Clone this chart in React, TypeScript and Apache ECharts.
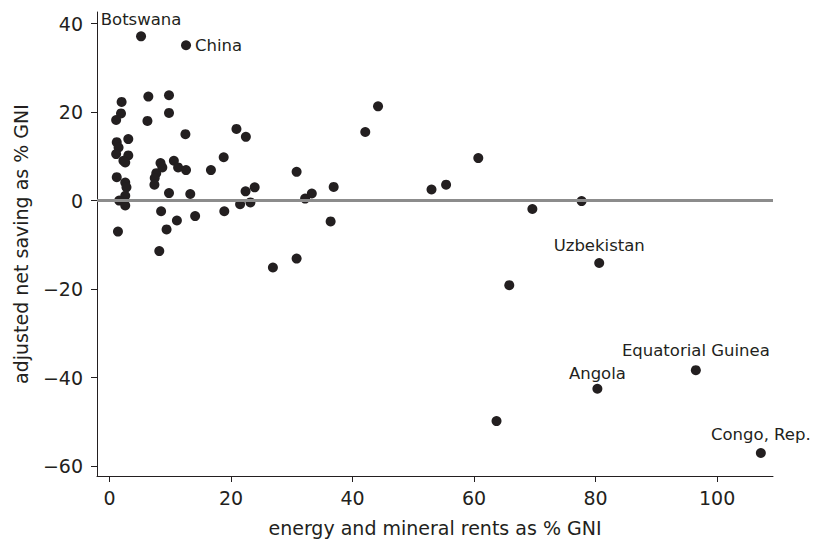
import React, { useEffect, useRef } from "react";
import * as echarts from "echarts";

// Unlabelled countries: energy and mineral rents (% GNI) and adjusted net saving (% GNI)
const rents = [
  2.0, 6.4, 9.8, 1.9, 1.1, 6.25, 9.8, 12.5, 20.9, 22.45,
  1.2, 3.1, 1.5, 1.1, 3.1, 2.3, 2.6, 1.2, 2.6, 2.8, 2.6, 1.6, 2.6,
  8.4, 8.7, 10.6, 11.3, 12.6, 16.7, 18.8, 7.7, 7.45, 7.4, 9.8, 13.3,
  22.4, 23.9, 21.5, 23.2, 8.5, 14.1, 11.1, 18.9, 9.4, 1.4, 8.2,
  26.9, 30.8, 30.8, 32.2, 33.3, 36.9, 36.4, 42.1, 44.2,
  60.7, 53.0, 55.4, 69.6, 77.7, 65.8, 63.7,
];
const saving = [
  22.3, 23.5, 23.8, 19.7, 18.2, 18.0, 19.8, 15.0, 16.2, 14.4,
  13.2, 13.9, 12.0, 10.5, 10.2, 9.0, 8.6, 5.3, 4.1, 3.0, 1.1, 0.0, -1.1,
  8.5, 7.5, 9.0, 7.5, 6.9, 6.9, 9.8, 6.2, 5.1, 3.6, 1.7, 1.5,
  2.1, 3.0, -0.8, -0.4, -2.4, -3.5, -4.5, -2.4, -6.5, -7.0, -11.4,
  -15.1, -13.1, 6.5, 0.45, 1.6, 3.1, -4.7, 15.5, 21.3,
  9.6, 2.5, 3.6, -1.9, -0.1, -19.1, -49.8,
];

// Labelled countries
const labeledNames = ["Botswana", "China", "Uzbekistan", "Angola", "Equatorial Guinea", "Congo, Rep."];
const labeledRents = [5.2, 12.6, 80.6, 80.3, 96.5, 107.2];
const labeledSaving = [37.1, 35.1, -14.1, -42.5, -38.3, -57.0];

const xTicks = [0, 20, 40, 60, 80, 100];
const yTicks = [-60, -40, -20, 0, 20, 40];

const labelPlacement: Record<string, { position: string; distance: number }> = {
  Botswana: { position: "top", distance: 3 },
  China: { position: "right", distance: 4 },
  Uzbekistan: { position: "top", distance: 4 },
  Angola: { position: "top", distance: 2 },
  "Equatorial Guinea": { position: "top", distance: 6 },
  "Congo, Rep.": { position: "top", distance: 5 },
};

const INK = "#231f20";
const FONT = "DejaVu Sans";

export default function App() {
  const ref = useRef<HTMLDivElement>(null);
  useEffect(() => {
    if (!ref.current) return;
    const chart = echarts.init(ref.current, null, { renderer: "svg" });
    const fmt = (v: number) => (v < 0 ? "\u2212" + Math.abs(v) : String(v));
    chart.setOption({
      animation: false,
      backgroundColor: "#ffffff",
      grid: { left: 97, right: 40, top: 12, bottom: 66, containLabel: false, outerBoundsMode: "none" },
      xAxis: {
        type: "value",
        min: -2.05,
        max: 109.2,
        splitLine: { show: false },
        axisLine: { show: true, onZero: false, lineStyle: { color: INK, width: 1 } },
        axisTick: { show: true, length: 6, lineStyle: { color: INK, width: 1 }, customValues: xTicks },
        axisLabel: { customValues: xTicks, color: INK, fontFamily: FONT, fontSize: 19, margin: 12, formatter: fmt },
        name: "energy and mineral rents as % GNI",
        nameLocation: "middle",
        nameGap: 42,
        nameTextStyle: { color: INK, fontFamily: FONT, fontSize: 19 },
      },
      yAxis: {
        type: "value",
        min: -62.2,
        max: 42.6,
        splitLine: { show: false },
        axisLine: { show: true, onZero: false, lineStyle: { color: INK, width: 1 } },
        axisTick: { show: true, length: 6, lineStyle: { color: INK, width: 1 }, customValues: yTicks },
        axisLabel: { customValues: yTicks, color: INK, fontFamily: FONT, fontSize: 19, margin: 14, formatter: fmt },
        name: "adjusted net saving as % GNI",
        nameLocation: "middle",
        nameRotate: 90,
        nameGap: 67,
        nameTextStyle: { color: INK, fontFamily: FONT, fontSize: 19 },
      },
      series: [
        {
          type: "scatter",
          data: [],
          z: 1,
          silent: true,
          markLine: {
            silent: true,
            symbol: "none",
            label: { show: false },
            lineStyle: { color: "#8c8c8c", width: 3, type: "solid" },
            data: [{ yAxis: 0 }],
          },
        },
        {
          type: "scatter",
          z: 3,
          symbolSize: 10,
          itemStyle: { color: INK, opacity: 1 },
          data: rents.map((x, i) => [x, saving[i]]),
        },
        {
          type: "scatter",
          z: 3,
          symbolSize: 10,
          itemStyle: { color: INK, opacity: 1 },
          data: labeledNames.map((n, i) => ({
            name: n,
            value: [labeledRents[i], labeledSaving[i]],
            label: {
              show: true,
              formatter: n,
              position: labelPlacement[n].position,
              distance: labelPlacement[n].distance,
              color: INK,
              fontFamily: FONT,
              fontSize: 16.5,
            },
          })),
        },
      ],
    });
    return () => chart.dispose();
  }, []);
  return (
    <div
      ref={ref}
      style={{ position: "fixed", left: 0, top: 0, width: 813, height: 542, background: "#fff" }}
    />
  );
}
